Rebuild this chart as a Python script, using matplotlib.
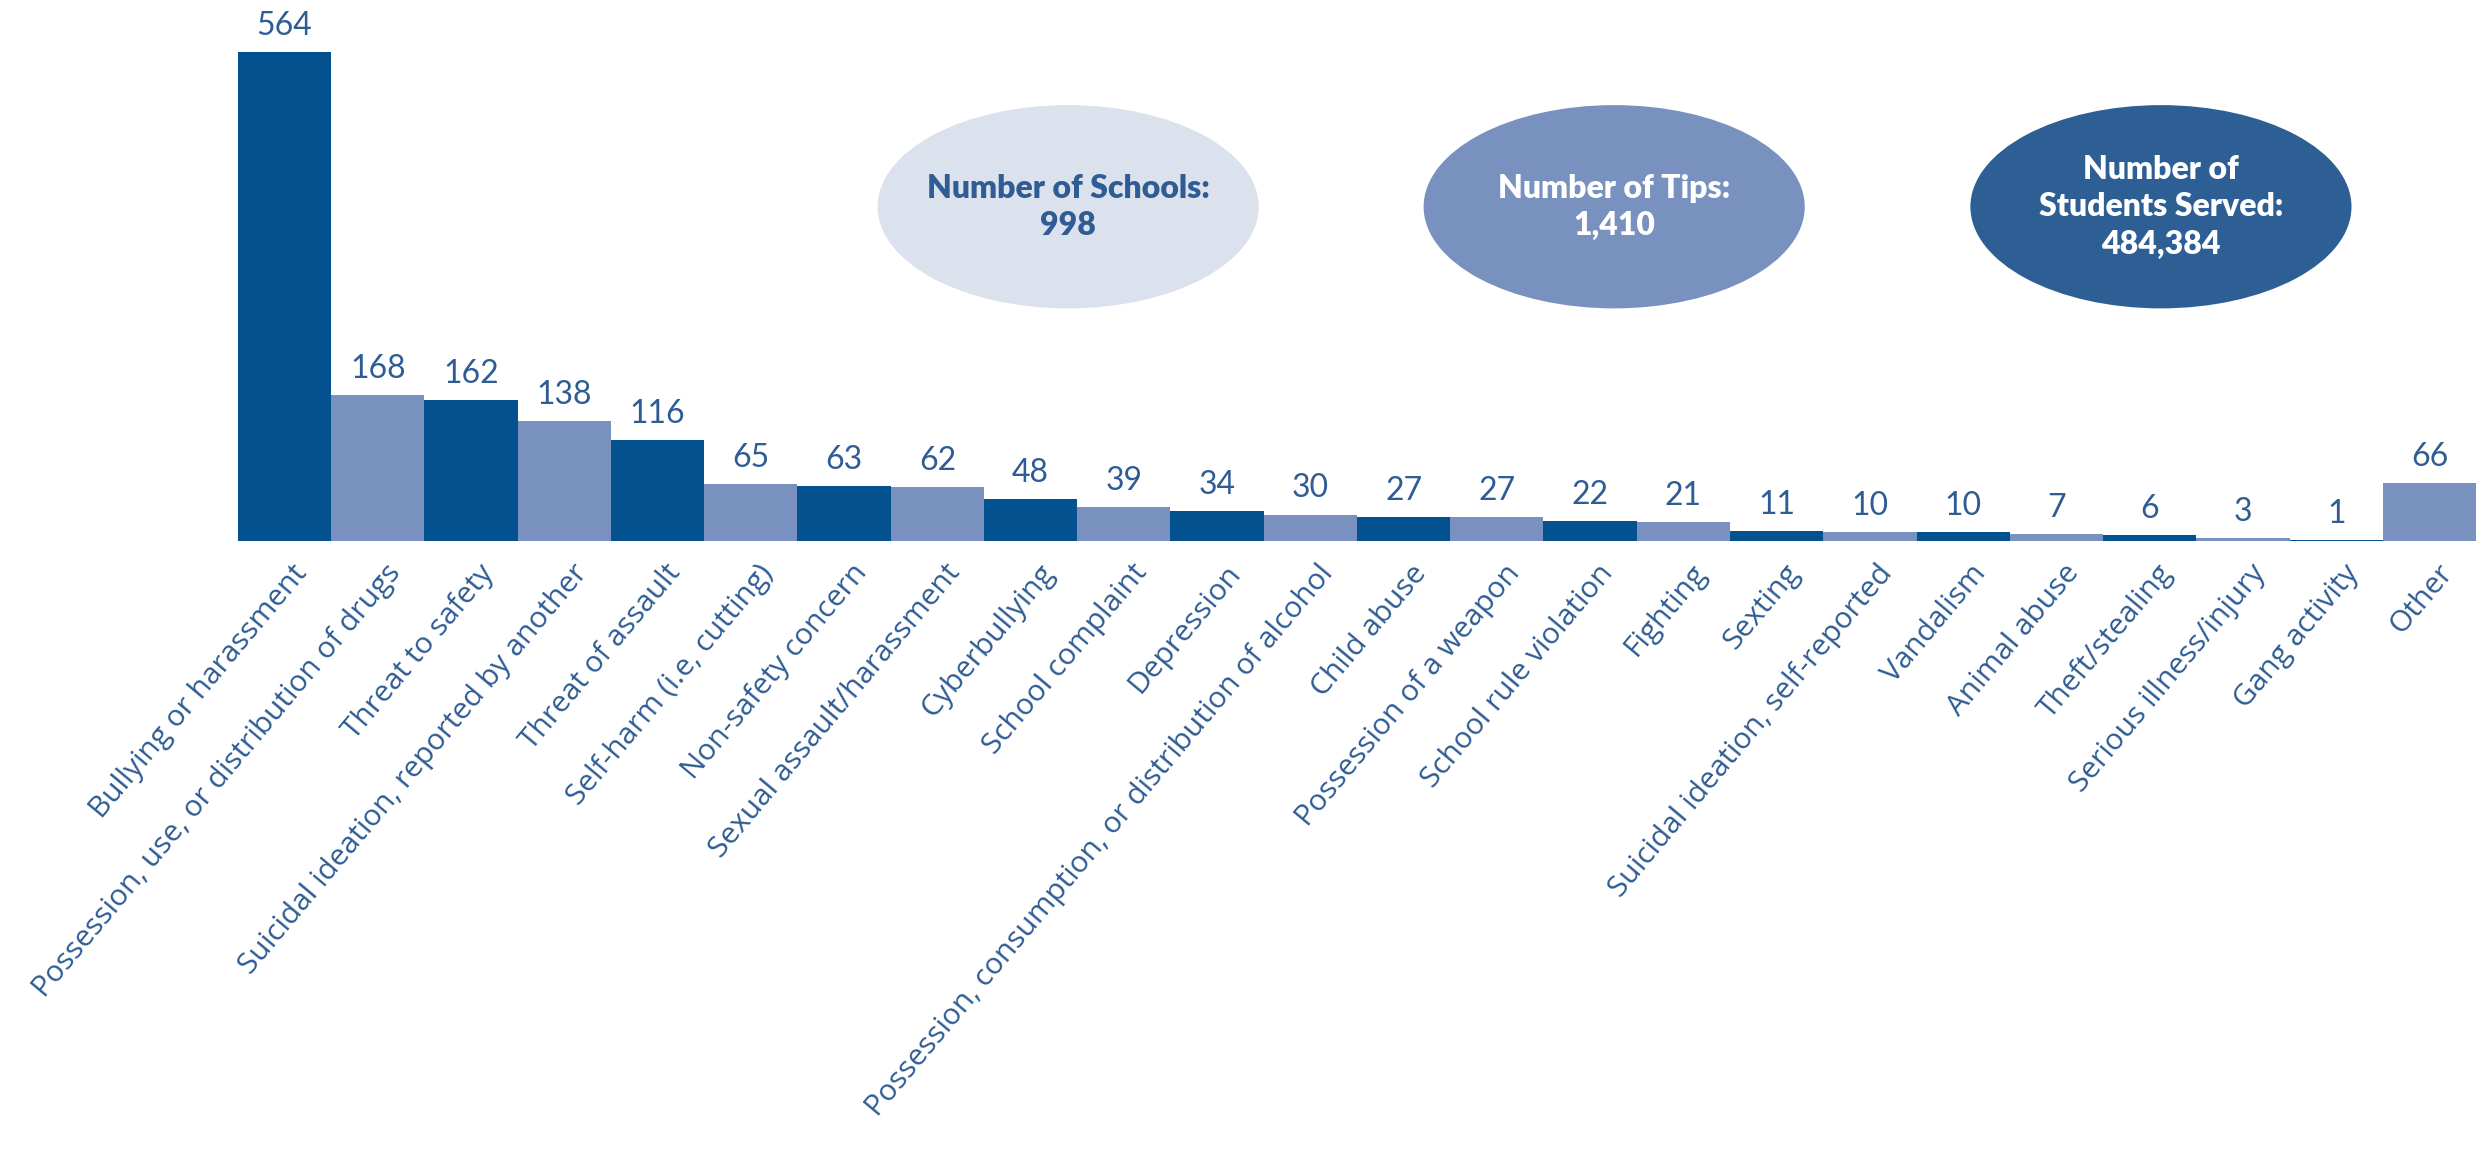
import matplotlib
matplotlib.use("Agg")
import matplotlib.pyplot as plt
import matplotlib.transforms as mtransforms
from matplotlib.patches import Ellipse

# tip categories and counts
categories = [
    "Bullying or harassment",
    "Possession, use, or distribution of drugs",
    "Threat to safety",
    "Suicidal ideation, reported by another",
    "Threat of assault",
    "Self-harm (i.e, cutting)",
    "Non-safety concern",
    "Sexual assault/harassment",
    "Cyberbullying",
    "School complaint",
    "Depression",
    "Possession, consumption, or distribution of alcohol",
    "Child abuse",
    "Possession of a weapon",
    "School rule violation",
    "Fighting",
    "Sexting",
    "Suicidal ideation, self-reported",
    "Vandalism",
    "Animal abuse",
    "Theft/stealing",
    "Serious illness/injury",
    "Gang activity",
    "Other",
]
counts = [564, 168, 162, 138, 116, 65, 63, 62, 48, 39, 34, 30,
          27, 27, 22, 21, 11, 10, 10, 7, 6, 3, 1, 66]

# summary bubbles
bubble_texts = ["Number of Schools:\n998", "Number of Tips:\n1,410",
                "Number of\nStudents Served:\n484,384"]

dark = "#03518F"
light = "#7891BF"
text_col = "#2E5C93"

plt.rcParams['font.family'] = ['Lato', 'DejaVu Sans']

fig = plt.figure(figsize=(24.91, 11.55), dpi=100)
ax = fig.add_axes([0.0955, 0.532, 0.8985, 0.450])

colors = [dark if i % 2 == 0 else light for i in range(len(counts))]
x = list(range(len(counts)))
bars = ax.bar(x, counts, width=1.0, color=colors, linewidth=0)

for xi, v in zip(x, counts):
    ax.annotate(str(v), (xi, v), xytext=(0, 8), textcoords="offset points",
                ha="center", va="bottom", fontsize=23, color=text_col)

ax.set_xlim(-0.5, len(counts) - 0.5)
ax.set_ylim(0, 600)
ax.set_xticks(x)
ax.set_xticklabels(categories, rotation=50, ha="right", va="center",
                   rotation_mode="anchor", fontsize=21.5, color=text_col,
                   family=["Open Sans", "DejaVu Sans"])
ax.tick_params(axis="x", length=0, pad=20)
# nudge labels a little to the right of the bar centre
shift = mtransforms.ScaledTranslation(18 / 100, 0, fig.dpi_scale_trans)
for lab in ax.get_xticklabels():
    lab.set_transform(lab.get_transform() + shift)
ax.set_yticks([])
for s in ax.spines.values():
    s.set_visible(False)

# bubbles
bubble_x = [0.4288, 0.6480, 0.8675]
bubble_fc = ["#DCE1EE", "#7891BF", "#2E5F94"]
bubble_tc = [text_col, "white", "white"]
for bx, fc, tc, t in zip(bubble_x, bubble_fc, bubble_tc, bubble_texts):
    fig.add_artist(Ellipse((bx, 0.821), 0.153, 0.176, transform=fig.transFigure,
                           facecolor=fc, edgecolor="none"))
    fig.text(bx, 0.821, t, ha="center", va="center", fontsize=23,
             fontweight="heavy", color=tc, linespacing=1.35)

fig.savefig("out.png", dpi=100)
